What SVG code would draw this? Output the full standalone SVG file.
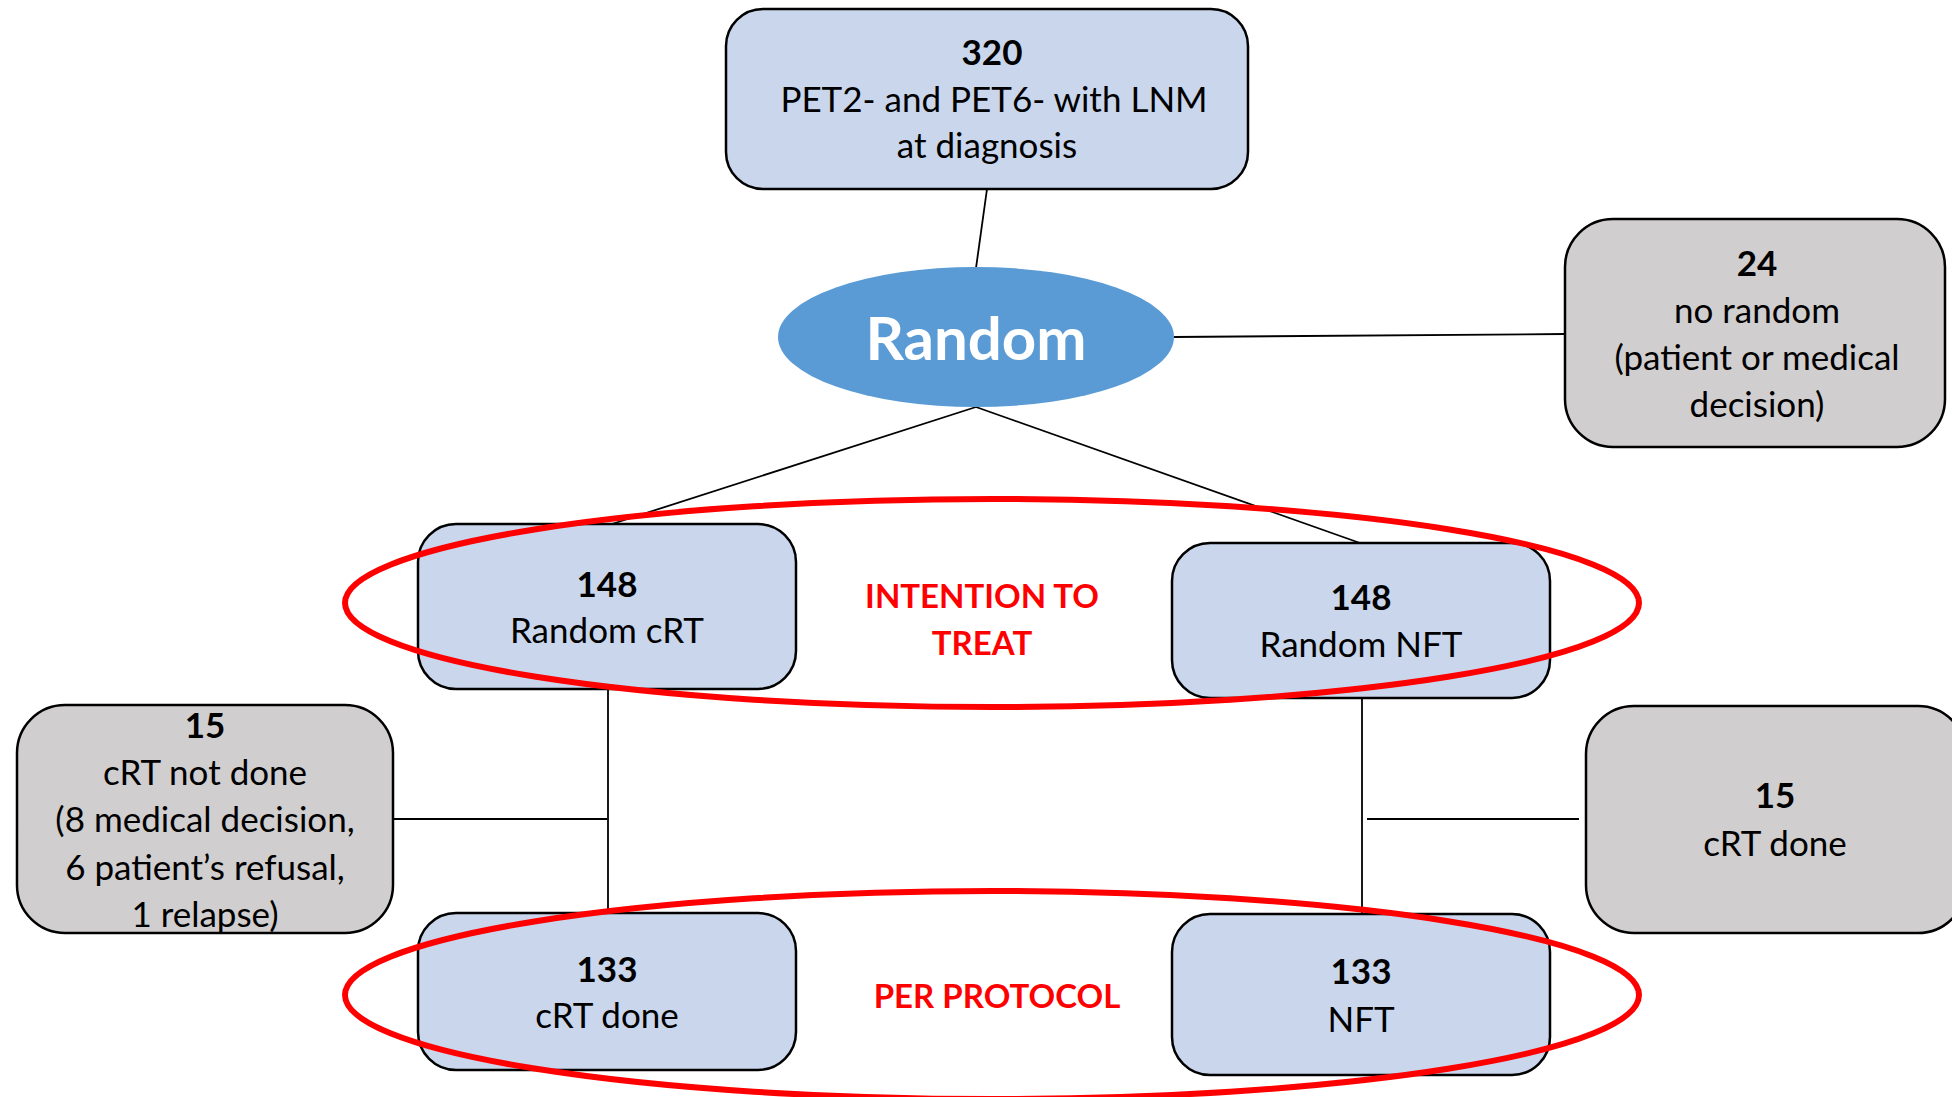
<svg xmlns="http://www.w3.org/2000/svg" width="1952" height="1097" viewBox="0 0 1952 1097">
<style>
.blue{fill:#C9D6EC;stroke:#000;stroke-width:2.5}
.gray{fill:#D0CECE;stroke:#000;stroke-width:2.5}
.t{font-family:Lato,"Liberation Sans",sans-serif;font-size:35px;fill:#000;text-anchor:middle}
.b{font-weight:bold}
.red{font-family:Lato,"Liberation Sans",sans-serif;font-size:33px;font-weight:bold;fill:#FF0000;text-anchor:middle}
.c{stroke:#000;stroke-width:1.8;fill:none}
.ring{fill:none;stroke:#FF0000;stroke-width:6}
</style>
<rect width="1952" height="1097" fill="#fff"/>
<g id="connectors">
<line class="c" x1="987" y1="189" x2="976" y2="268"/>
<line class="c" x1="1174" y1="337" x2="1565" y2="334"/>
<line class="c" x1="976" y1="407" x2="612" y2="524"/>
<line class="c" x1="976" y1="407" x2="1360" y2="543"/>
<line class="c" x1="608" y1="689" x2="608" y2="913"/>
<line class="c" x1="393" y1="819" x2="607" y2="819"/>
<line class="c" x1="1362" y1="698" x2="1362" y2="914"/>
<line class="c" x1="1367" y1="819" x2="1579" y2="819"/>
</g>
<g id="n320">
<rect class="blue" x="726" y="9" width="522" height="180" rx="37"/>
<text class="t b" x="992" y="65">320</text>
<text class="t" x="994" y="112">PET2- and PET6- with LNM</text>
<text class="t" x="987" y="158">at diagnosis</text>
</g>
<g id="random">
<ellipse cx="976" cy="337" rx="198" ry="70" fill="#5B9BD5"/>
<text x="976" y="360" font-family="Lato,'Liberation Sans',sans-serif" font-size="60" font-weight="bold" fill="#fff" text-anchor="middle">Random</text>
</g>
<g id="n24">
<rect class="gray" x="1565" y="219" width="380" height="228" rx="48"/>
<text class="t b" x="1757" y="276">24</text>
<text class="t" x="1757" y="323">no random</text>
<text class="t" x="1757" y="370">(patient or medical</text>
<text class="t" x="1757" y="417">decision)</text>
</g>
<g id="randomcrt">
<rect class="blue" x="418" y="524" width="378" height="165" rx="38"/>
<text class="t b" x="607" y="597">148</text>
<text class="t" x="607" y="643">Random cRT</text>
</g>
<g id="randomnft">
<rect class="blue" x="1172" y="543" width="378" height="155" rx="38"/>
<text class="t b" x="1361" y="610">148</text>
<text class="t" x="1361" y="657">Random NFT</text>
</g>
<g id="crtnotdone">
<rect class="gray" x="17" y="705" width="376" height="228" rx="48"/>
<text class="t b" x="205" y="738">15</text>
<text class="t" x="205" y="785">cRT not done</text>
<text class="t" x="205" y="832">(8 medical decision,</text>
<text class="t" x="205" y="880">6 patient’s refusal,</text>
<text class="t" x="205" y="927">1 relapse)</text>
</g>
<g id="crtdone15">
<rect class="gray" x="1586" y="706" width="380" height="227" rx="48"/>
<text class="t b" x="1775" y="808">15</text>
<text class="t" x="1775" y="856">cRT done</text>
</g>
<g id="crtdone133">
<rect class="blue" x="418" y="913" width="378" height="157" rx="38"/>
<text class="t b" x="607" y="982">133</text>
<text class="t" x="607" y="1028">cRT done</text>
</g>
<g id="nft133">
<rect class="blue" x="1172" y="914" width="378" height="161" rx="38"/>
<text class="t b" x="1361" y="984">133</text>
<text class="t" x="1361" y="1032">NFT</text>
</g>
<g id="itt">
<ellipse class="ring" cx="992" cy="603" rx="647" ry="104"/>
<text class="red" x="982" y="608">INTENTION TO</text>
<text class="red" x="982" y="655">TREAT</text>
</g>
<g id="pp">
<ellipse class="ring" cx="992" cy="995" rx="647" ry="104"/>
<text class="red" x="997" y="1008">PER PROTOCOL</text>
</g>
</svg>
